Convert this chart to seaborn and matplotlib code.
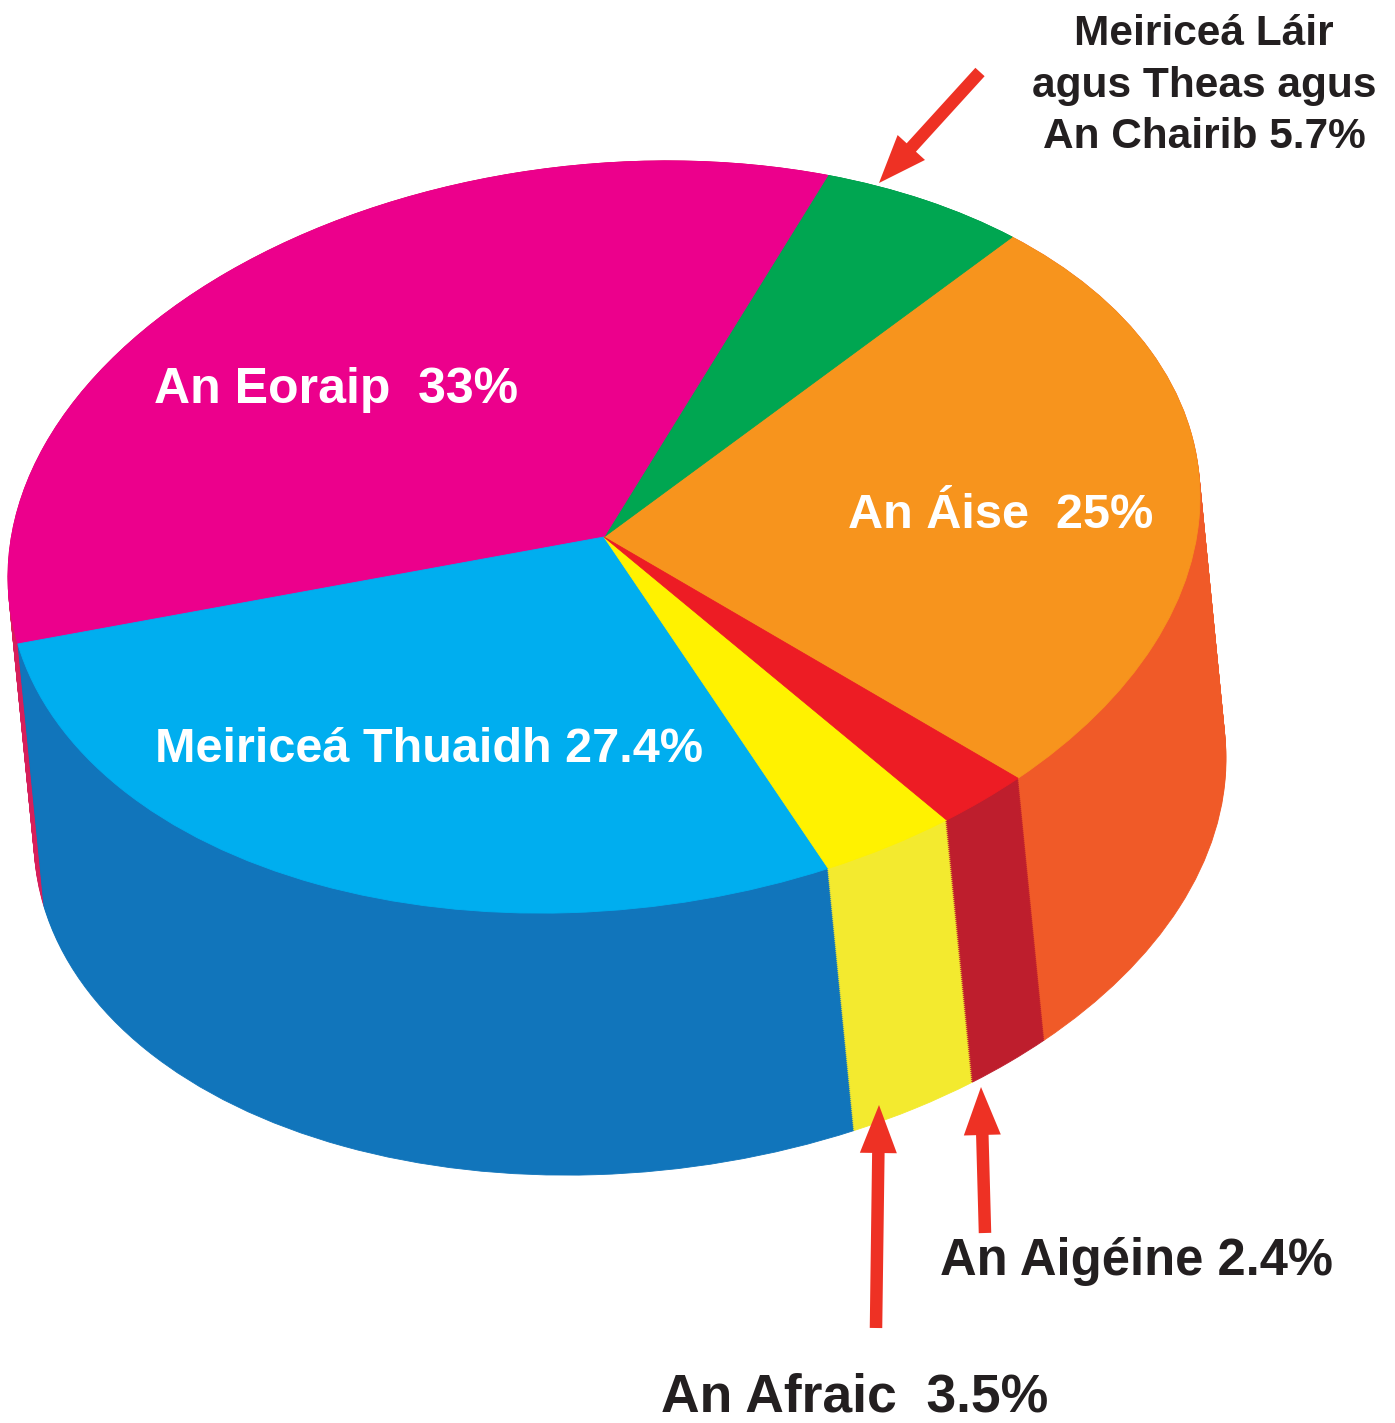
import matplotlib
matplotlib.use("Agg")
import matplotlib.pyplot as plt
import seaborn as sns
from matplotlib.transforms import Affine2D

# ---------------- data ----------------
regions = ["An Áise", "Meiriceá Láir agus Theas agus An Chairib", "An Eoraip",
           "Meiriceá Thuaidh", "An Afraic", "An Aigéine"]
shares = [25, 5.7, 33, 27.4, 3.5, 2.4]
top_colors = ["#F7941D", "#00A651", "#EC008C", "#00AEEF", "#FFF200", "#ED1C24"]
side_colors = ["#F05A28", "#009444", "#D71F5B", "#1175BB", "#F3EA2F", "#BE1E2D"]

inner_labels = ["An Áise  25%", "An Eoraip  33%", "Meiriceá Thuaidh 27.4%"]
outer_labels = ["Meiriceá Láir\nagus Theas agus\nAn Chairib 5.7%",
                "An Aigéine 2.4%", "An Afraic  3.5%"]

# ---------------- layout ----------------
W, H = 1395, 1423
CX, CY = 604, 537          # centre of the top face (pixels)
AX_, AY_ = 596, -40        # semi-diameter along u
BV = 374                   # semi-diameter along v
DX, DY = 26, 262           # extrusion (depth) vector
START = -46
NLAYERS = 131
RED = "#EE3124"
DARK = "#231F20"

sns.set_theme(style="white")
plt.rcParams["font.family"] = ["Liberation Sans", "DejaVu Sans"]

fig = plt.figure(figsize=(W / 100, H / 100), dpi=100)
ax = fig.add_axes([0, 0, 1, 1])


def tilt(dx=0.0, dy=0.0):
    return Affine2D().from_values(AX_, AY_, 0, -BV, CX + dx, CY + dy) + ax.transData


# side walls: stacked pies from the bottom up
for k in range(NLAYERS, -1, -1):
    t = k / NLAYERS
    wedges, _ = ax.pie(shares, colors=side_colors, startangle=START,
                       counterclock=True, wedgeprops=dict(linewidth=0))
    tr = tilt(t * DX, t * DY)
    for w in wedges:
        w.set_transform(tr)
        w.set_edgecolor(w.get_facecolor())
        w.set_linewidth(0.6)

# top face
wedges, _ = ax.pie(shares, colors=top_colors, startangle=START,
                   counterclock=True, wedgeprops=dict(linewidth=0))
tr = tilt()
for w in wedges:
    w.set_transform(tr)
    w.set_edgecolor(w.get_facecolor())
    w.set_linewidth(0.6)

ax.set_aspect("auto")
ax.set_xlim(0, W)
ax.set_ylim(H, 0)
ax.axis("off")

# labels on the slices
ax.text(1001, 528, inner_labels[0], color="white", fontsize=35,
        fontweight="bold", ha="center", va="baseline")
ax.text(336, 403, inner_labels[1], color="white", fontsize=36,
        fontweight="bold", ha="center", va="baseline")
ax.text(429, 762, inner_labels[2], color="white", fontsize=35,
        fontweight="bold", ha="center", va="baseline")

# outside labels
for line, yb in zip(outer_labels[0].split("\n"), [45, 97, 148]):
    ax.text(1204, yb, line, color=DARK, fontsize=30.5, fontweight="bold",
            ha="center", va="baseline")
ax.text(1136, 1275, outer_labels[1], color=DARK, fontsize=36.5,
        fontweight="bold", ha="center", va="baseline")
ax.text(855, 1411, outer_labels[2], color=DARK, fontsize=38.5,
        fontweight="bold", ha="center", va="baseline")

# arrows
arrows = [((980, 72), (879, 183)),
          ((876, 1328), (879, 1105)),
          ((985, 1233), (981, 1087))]
for (x0, y0), (x1, y1) in arrows:
    ax.arrow(x0, y0, x1 - x0, y1 - y0, width=12.5, head_width=37,
             head_length=48, length_includes_head=True, color=RED,
             linewidth=0, zorder=5)

fig.savefig("out.png", dpi=100)
